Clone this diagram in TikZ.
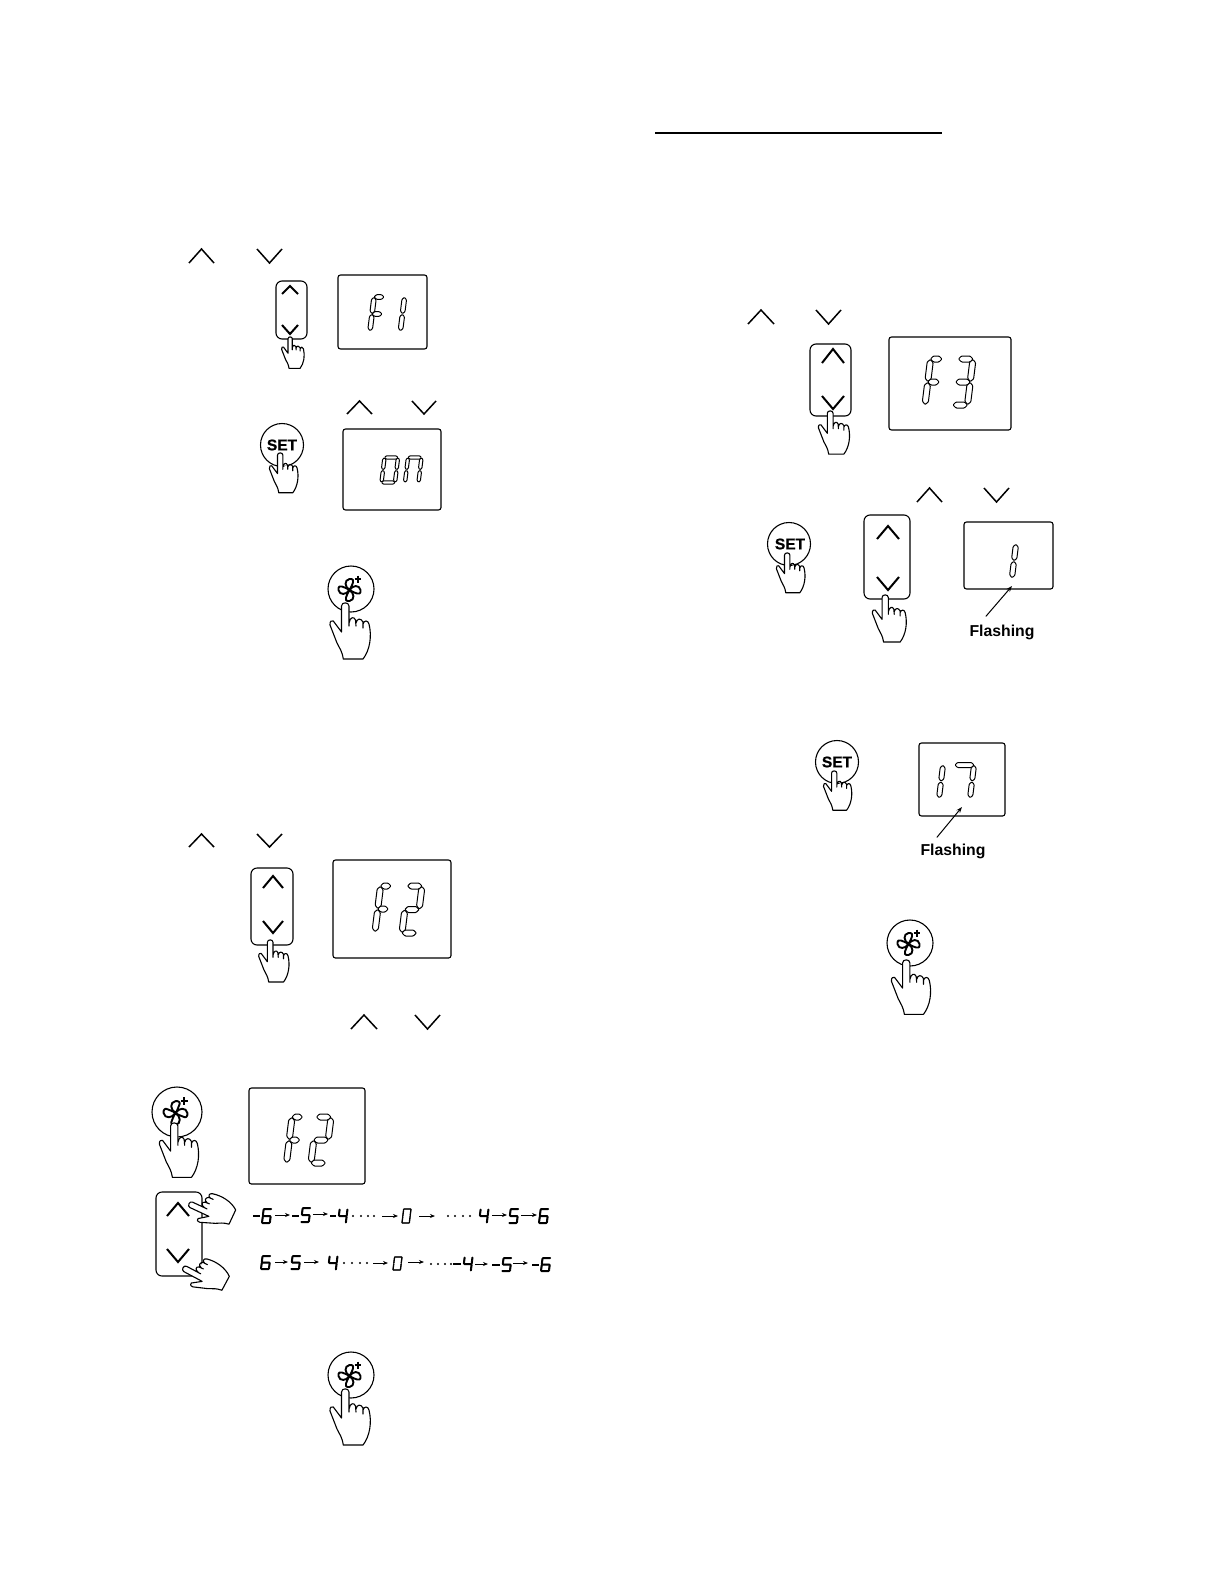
\documentclass[tikz,border=0pt]{standalone}
\usepackage{fontspec}
\setmainfont{Liberation Sans}
\newfontfamily\setfont[FakeBold=0.9]{Liberation Sans Bold}
\usetikzlibrary{arrows.meta}
\tikzset{
  panel/.style={draw=black,line width=1.1pt,rounded corners=2.5pt,fill=white},
  updown/.style={draw=black,line width=1.1pt,rounded corners=6pt,fill=white},
  knob/.style={draw=black,line width=1.1pt},
  chevbig/.style={line width=1.5pt,line join=miter},
  chevin/.style={line width=2pt,line join=miter},
  outseg/.style={draw=black,fill=white,line width=1pt,rounded corners=0.8pt},
  solidseg/.style={draw=black,fill=black,line width=0.8pt},
  thinseg/.style={draw=black,fill=black,line width=0.5pt},
  seqarrow/.style={line width=1pt,-{Stealth[length=5pt,width=4pt]}},
  flasharrow/.style={line width=1pt,-{Stealth[length=6pt,width=4.4pt]}},
  setlabel/.style={font=\setfont\fontsize{15.5}{16}\selectfont,inner sep=0pt},
  flashlabel/.style={font=\bfseries\fontsize{15.8}{18}\selectfont,inner sep=0pt},
}
% chevrons
\newcommand\chevU[5][chevbig]{\draw[#1] (#2,#5) -- ({(#2+#3)/2},#4) -- (#3,#5);}
\newcommand\chevD[5][chevbig]{\draw[#1] (#2,#4) -- ({(#2+#3)/2},#5) -- (#3,#4);}
% hand: tip x, tip y, scale, rotation
\newcommand\hand[4]{%
\begin{scope}[shift={(#1,#2)},rotate=#4,scale=#3]
\fill[white] (-3.5,29) -- (-3.5,3) .. controls (-3.5,-1.2) and (4,-1.2) .. (4,3) -- (4,20)
 -- (10,17) -- (18,19) -- (24,21)
 .. controls (27,33) and (25,47) .. (18,56) -- (-1.7,56) .. controls (-3,48) and (-5,46) .. (-8,40)
 -- (-15,22) .. controls (-15.5,18) and (-13,17) .. (-11.7,18) -- cycle;
\draw[line width=1.1pt,line join=round,line cap=round] (-3.5,29) -- (-3.5,3) .. controls (-3.5,-1.2) and (4,-1.2) .. (4,3) -- (4,23)
 (4,20) .. controls (5,14) and (9,13) .. (10.5,17) -- (11,23)
 (11,20) .. controls (12,15) and (16,15) .. (18,19) -- (18,25)
 (18,21) .. controls (19,17) and (23,17) .. (24,21)
 .. controls (27,33) and (25,47) .. (18,56) -- (-1.7,56) .. controls (-3,48) and (-5,46) .. (-8,40)
 -- (-15,22) .. controls (-15.5,18) and (-13,17) .. (-11.7,18) -- (-3.5,29);
\end{scope}}
% fan symbol
\newcommand\fan[3]{%
\begin{scope}[shift={(#1,#2)},scale=#3]
\foreach \a in {0,90,180,270}{
\draw[rotate=\a,line width=1.9pt,line join=round] (0,0) .. controls (-5,-3) and (-5.5,-10) .. (0,-11)
 .. controls (3,-11.5) and (5,-9.5) .. (3.5,-7.5) .. controls (2.5,-5) and (2,-3) .. (0,0);}
\draw[line width=2.2pt] (5,-11) -- (11.5,-11) (8.2,-14.5) -- (8.2,-7.5);
\end{scope}}
% seven segment digit: elongated hexagons
\newcommand\capsule[4]{%
\pgfmathsetmacro\dX{#3-(#1)}\pgfmathsetmacro\dY{#4-(#2)}
\pgfmathsetmacro\lN{veclen(\dX,\dY)}
\pgfmathsetmacro\uX{\HW*\dX/\lN}\pgfmathsetmacro\uY{\HW*\dY/\lN}
\draw[segst] ({#1},{#2}) -- ({#1+\uX-\uY},{#2+\uY+\uX}) -- ({#3-\uX-\uY},{#4-\uY+\uX}) -- ({#3},{#4})
 -- ({#3-\uX+\uY},{#4-\uY-\uX}) -- ({#1+\uX+\uY},{#2+\uY-\uX}) -- cycle;}
\newcommand\segA{\capsule{\S}{0}{\W}{0}}
\newcommand\segB{\capsule{\W}{\G}{\W-\S/2}{\H/2-\G}}
\newcommand\segC{\capsule{\W-\S/2}{\H/2+\G}{\W-\S}{\H-\G}}
\newcommand\segD{\capsule{0}{\H}{\W-\S}{\H}}
\newcommand\segE{\capsule{\S/2}{\H/2+\G}{0}{\H-\G}}
\newcommand\segF{\capsule{\S}{\G}{\S/2}{\H/2-\G}}
\newcommand\segG{\capsule{\S/2}{\H/2}{\W-\S/2}{\H/2}}
\newcommand\dig[7]{%
\begin{scope}[shift={(#1,#2)},segst/.style={#7}]
\def\W{#3}\def\H{#4}\def\HW{#6}
\pgfmathsetmacro\S{0.12*#4}
\pgfmathsetmacro\G{0.01*#4}
\foreach \s in {#5}{\csname seg\s\endcsname}
\end{scope}}
\newcommand\minus[3]{\draw[line width=1.8pt] (#1,#3) -- (#2,#3);}
\begin{document}
\begin{tikzpicture}[x=1pt,y=-1pt]
\useasboundingbox (0,0) rectangle (1224,1584);
\fill[white] (0,0) rectangle (1224,1584);

% heading rule
\coordinate (ruleL) at (655,133);
\coordinate (ruleR) at (942,133);
\draw[line width=1.1pt] (ruleL) -- (ruleR);

%%% F1 block
\chevU{189}{214}{249}{263}
\chevD{257}{282}{249}{263}
\draw[updown] (276,281) rectangle (307,339);
\chevU[chevin]{282}{298}{286}{294}
\chevD[chevin]{282}{298}{325}{334}
\hand{290}{337}{0.56}{0}
\draw[panel] (338,275) rectangle (427,349);
\dig{370}{297}{14}{34}{F,E,A,G}{2.3}{outseg}
\dig{395}{297}{9.5}{34}{B,C}{2.3}{outseg}

\chevU{347}{372}{401}{414}
\chevD{412}{436}{401}{414}
\draw[knob] (282,445) circle (21.5);
\node[setlabel] (setA) at (282,445) {SET};
\hand{280}{453}{0.71}{0}
\draw[panel] (343,429) rectangle (441,510);
\dig{381.5}{457.5}{16.5}{25}{B,C,E,F,A,D}{1.7}{outseg}
\dig{405}{457.5}{16.5}{25}{B,C,E,F,A}{1.7}{outseg}

\draw[knob] (351,589) circle (23);
\fan{349.5}{590}{1}
\hand{345}{603}{1}{0}

%%% F2 block
\chevU{189}{214}{834}{847}
\chevD{257}{282}{834}{847}
\draw[updown] (251,868) rectangle (293,945);
\chevU[chevin]{263}{283}{876}{888}
\chevD[chevin]{263}{283}{921}{933}
\hand{270}{940}{0.75}{0}
\draw[panel] (333,860) rectangle (451,958);
\dig{375}{886}{16}{46}{F,E,A,G}{3}{outseg}
\dig{402}{886}{20}{47}{B,E,A,G,D}{3}{outseg}

\chevU{351}{377}{1015}{1029}
\chevD{415}{440}{1015}{1029}

\draw[knob] (177,1112) circle (25);
\fan{175.5}{1113}{1.08}
\hand{174}{1123}{0.97}{0}
\draw[panel] (249,1088) rectangle (365,1184);
\dig{286.5}{1117}{16}{46}{F,E,A,G}{3}{outseg}
\dig{311}{1117}{20}{46}{B,E,A,G,D}{3}{outseg}

\draw[updown] (156,1192) rectangle (202,1276);
\chevU[chevin]{167}{189}{1203}{1216}
\chevD[chevin]{167}{189}{1249}{1262}
\hand{189}{1204}{0.8}{65}
\hand{183}{1268}{0.8}{62}

% upper sequence
\minus{253}{260}{1216}
\dig{262}{1209}{9.5}{14}{A,F,G,E,D,C}{0.6}{solidseg}
\draw[seqarrow] (275,1215) -- (290,1215);
\minus{292}{299}{1216}
\dig{301}{1208}{9.5}{14}{A,F,G,C,D}{0.6}{solidseg}
\draw[seqarrow] (313,1214) -- (328,1214);
\minus{330}{336}{1216}
\dig{338}{1209}{9.5}{14}{F,G,B,C}{0.6}{solidseg}
\foreach \x in {353,361,368,374}{\fill (\x,1216) circle (1.2);}
\draw[seqarrow] (382,1216) -- (398,1216);
\dig{402}{1209}{9}{14}{A,B,C,D,E,F}{0.4}{thinseg}
\draw[seqarrow] (419,1216) -- (435,1216);
\foreach \x in {448,455,463,470}{\fill (\x,1216) circle (1.2);}
\dig{479}{1209}{9.5}{14}{F,G,B,C}{0.6}{solidseg}
\draw[seqarrow] (492,1215) -- (507,1215);
\dig{509}{1209}{9.5}{14}{A,F,G,C,D}{0.6}{solidseg}
\draw[seqarrow] (521,1215) -- (537,1215);
\dig{539}{1209}{9.5}{14}{A,F,G,E,D,C}{0.6}{solidseg}

% lower sequence
\dig{261}{1256}{9.5}{13}{A,F,G,E,D,C}{0.6}{solidseg}
\draw[seqarrow] (275,1262) -- (288,1262);
\dig{291}{1256}{9.5}{13}{A,F,G,C,D}{0.6}{solidseg}
\draw[seqarrow] (304,1262) -- (319,1262);
\dig{328}{1256}{9.5}{14}{F,G,B,C}{0.6}{solidseg}
\foreach \x in {344,352,360,367}{\fill (\x,1263) circle (1.2);}
\draw[seqarrow] (373,1263) -- (388,1263);
\dig{393}{1257}{9}{13}{A,B,C,D,E,F}{0.4}{thinseg}
\draw[seqarrow] (408,1262) -- (424,1262);
\foreach \x in {431,438,445,451}{\fill (\x,1264) circle (1.2);}
\minus{453}{461}{1264}
\dig{463}{1257}{9.5}{14}{F,G,B,C}{0.6}{solidseg}
\draw[seqarrow] (475,1264) -- (488,1264);
\minus{492}{500}{1265}
\dig{502}{1258}{9.5}{13}{A,F,G,C,D}{0.6}{solidseg}
\draw[seqarrow] (513,1263) -- (528,1263);
\minus{532}{539}{1265}
\dig{541}{1258}{9.5}{13}{A,F,G,E,D,C}{0.6}{solidseg}

\draw[knob] (351,1375) circle (23);
\fan{349.5}{1376}{1}
\hand{345}{1389}{1}{0}

%%% F3 block
\chevU{748}{774}{310}{324}
\chevD{816}{841}{310}{324}
\draw[updown] (810,344) rectangle (851,416);
\chevU[chevin]{822}{844}{349}{363}
\chevD[chevin]{822}{844}{396}{409}
\hand{830}{411}{0.77}{0}
\draw[panel] (889,337) rectangle (1011,430);
\dig{925}{359}{17}{46}{F,E,A,G}{3}{outseg}
\dig{953}{359}{20}{46}{B,C,A,G,D}{3}{outseg}

\chevU{917}{942}{488}{502}
\chevD{984}{1009}{488}{502}
\draw[knob] (789,544) circle (21.5);
\node[setlabel] (setB) at (790,544) {SET};
\hand{787}{553}{0.71}{0}
\draw[updown] (864,515) rectangle (910,599);
\chevU[chevin]{877}{899}{526}{539}
\chevD[chevin]{877}{899}{577}{590}
\hand{885}{595}{0.84}{0}
\draw[panel] (964,522) rectangle (1053,589);
\dig{1000}{544}{16}{34}{B,C}{2.6}{outseg}
\node[flashlabel] (flashA) at (1002,632) {Flashing};
\coordinate (flashAtip) at (1012,586);
\draw[flasharrow] ([shift={(-3,-8)}]flashA.150) -- (flashAtip);

\draw[knob] (837,762) circle (21.5);
\node[setlabel] (setC) at (837,762) {SET};
\hand{834}{771}{0.7}{0}
\draw[panel] (919,743) rectangle (1005,816);
\dig{930}{765}{13}{33}{B,C}{2.5}{outseg}
\dig{951}{765}{23}{33}{B,C,A}{2.5}{outseg}
\node[flashlabel] (flashB) at (953,851) {Flashing};
\coordinate (flashBtip) at (962,807);
\draw[flasharrow] ([shift={(-3,-6)}]flashB.150) -- (flashBtip);

\draw[knob] (910,943) circle (23);
\fan{908.5}{944}{1}
\hand{906}{960}{0.97}{0}
\end{tikzpicture}
\end{document}
